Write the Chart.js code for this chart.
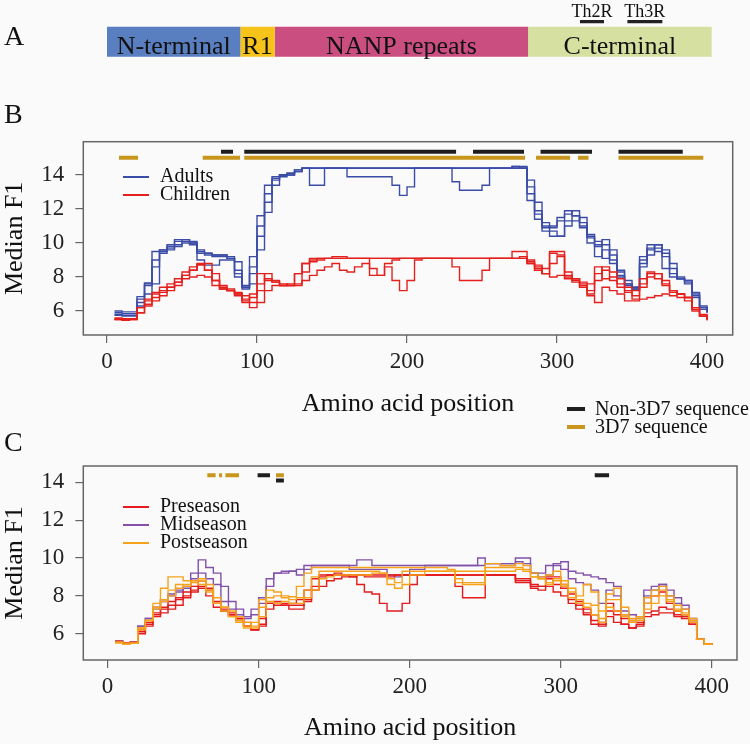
<!DOCTYPE html>
<html>
<head>
<meta charset="utf-8">
<script src="https://cdn.jsdelivr.net/npm/chart.js@4.4.1/dist/chart.umd.min.js"></script>
<style>
    html, body { margin: 0; padding: 0; background: #fafafa; }
    #figure {
        position: relative;
        width: 750px;
        height: 744px;
        overflow: hidden;
        font-family: "Liberation Serif", "DejaVu Serif", serif;
        color: #111;
    }
    #figure canvas { position: absolute; left: 0; }
    .panel-letter { position: absolute; font-size: 28px; line-height: 28px; }
    .key-text { position: absolute; font-size: 20px; line-height: 20px; white-space: nowrap; }
    .key-mark { position: absolute; }
</style>
</head>
<body>
<div id="figure">
    <canvas id="panel-a" width="750" height="75" style="top:0"></canvas>
    <canvas id="panel-b" width="750" height="300" style="top:130px"></canvas>
    <canvas id="panel-c" width="750" height="289" style="top:455px"></canvas>
    <div class="panel-letter" style="left:4px; top:22px">A</div>
    <div class="panel-letter" style="left:4px; top:100px">B</div>
    <div class="panel-letter" style="left:4px; top:428px">C</div>
</div>
<script>
// amino acid positions shared by every profile (window positions)
const aaPositions = [
    5, 10, 15, 20, 25, 30, 35, 40, 45, 50,
    55, 60, 65, 70, 75, 80, 85, 90, 95, 100,
    105, 110, 115, 120, 125, 130, 135, 140, 145, 150,
    155, 160, 165, 170, 175, 180, 185, 190, 195, 200,
    205, 210, 215, 220, 225, 230, 235, 240, 245, 250,
    255, 260, 265, 270, 275, 280, 285, 290, 295, 300,
    305, 310, 315, 320, 325, 330, 335, 340, 345, 350,
    355, 360, 365, 370, 375, 380, 385, 390, 395, 400,
];
const xTicks = [0, 100, 200, 300, 400];
const yTicks = [6, 8, 10, 12, 14];

// panel A: protein domains
const domainLabels = ["N-terminal", "R1", "NANP repeats", "C-terminal"];
const domainStarts = [0, 88.9, 111.8, 280.7];
const domainEnds = [88.9, 111.8, 280.7, 403.1];
const epitopeLabels = ["Th2R", "Th3R"];
const epitopeStarts = [315.3, 346.9];
const epitopeEnds = [331.3, 370.2];

// panel B: adults
const adultsB1 = [
    6.0, 5.95, 5.95, 6.85, 7.65, 9.5, 9.6, 9.9, 10.2, 10.2,
    10.0, 9.5, 9.4, 9.3, 9.3, 9.2, 8.4, 7.5, 9.2, 11.6,
    13.4, 13.9, 14.0, 14.1, 14.3, 14.4, 14.4, 14.4, 14.4, 14.4,
    14.4, 14.4, 14.4, 14.4, 14.4, 14.4, 14.4, 14.4, 14.4, 14.4,
    14.4, 14.4, 14.4, 14.4, 14.4, 14.4, 14.4, 14.4, 14.4, 14.4,
    14.4, 14.4, 14.4, 14.5, 14.5, 12.5, 11.4, 10.9, 11.0, 11.5,
    11.9, 11.6, 10.9, 10.3, 9.8, 10.2, 9.3, 8.3, 7.6, 7.4,
    9.0, 9.9, 9.5, 8.5, 8.0, 7.9, 7.7, 6.9, 6.2, 5.95,
];
const adultsB2 = [
    5.8, 5.75, 5.75, 6.5, 7.5, 8.6, 9.5, 9.7, 9.8, 10.0,
    9.9, 9.0, 8.7, 8.7, 9.0, 9.0, 8.2, 7.3, 8.2, 10.4,
    12.4, 13.7, 14.0, 14.0, 14.2, 14.4, 13.4, 13.4, 14.4, 14.4,
    14.4, 14.4, 14.4, 14.4, 14.4, 14.4, 14.4, 14.4, 14.4, 14.4,
    14.4, 14.4, 14.4, 14.4, 14.4, 14.4, 14.4, 14.4, 14.4, 14.4,
    14.4, 14.4, 14.4, 14.4, 14.4, 13.3, 11.9, 10.7, 10.4, 10.4,
    11.3, 11.6, 11.0, 10.0, 9.2, 9.6, 8.8, 8.0, 7.5, 7.3,
    8.8, 9.6, 9.7, 9.2, 8.2, 7.9, 7.6, 6.8, 6.1, 5.9,
];
const adultsB3 = [
    5.75, 5.7, 5.7, 6.3, 7.0, 7.6, 9.4, 9.6, 9.9, 10.1,
    10.1, 9.6, 9.4, 9.2, 9.2, 9.1, 8.9, 7.4, 7.6, 9.6,
    11.8, 13.4, 13.9, 14.0, 14.2, 14.4, 14.4, 14.4, 14.4, 14.4,
    14.4, 13.9, 13.9, 13.9, 13.9, 13.9, 13.9, 13.4, 12.8, 13.3,
    14.4, 14.4, 14.4, 14.4, 14.4, 13.6, 13.1, 13.1, 13.1, 13.4,
    14.4, 14.4, 14.4, 14.5, 14.4, 13.7, 12.4, 11.2, 10.7, 10.4,
    11.0, 11.3, 11.5, 10.5, 9.9, 9.1, 9.6, 8.4, 7.8, 7.3,
    8.6, 9.3, 9.9, 9.6, 8.8, 8.0, 7.8, 7.0, 6.2, 5.9,
];
const adultsB4 = [
    5.9, 5.85, 5.85, 6.7, 7.6, 9.0, 9.6, 9.8, 10.1, 10.2,
    10.0, 9.4, 9.3, 9.3, 9.3, 9.1, 8.0, 7.4, 8.6, 11.0,
    12.9, 13.8, 14.0, 14.1, 14.3, 14.4, 14.4, 14.4, 14.4, 14.4,
    14.4, 14.4, 14.4, 14.4, 14.4, 14.4, 14.4, 14.4, 14.4, 14.4,
    14.4, 14.4, 14.4, 14.4, 14.4, 14.4, 14.4, 14.4, 14.4, 14.4,
    14.4, 14.4, 14.4, 14.4, 14.4, 12.9, 11.7, 11.0, 10.9, 11.3,
    11.7, 11.9, 11.2, 10.4, 10.1, 9.9, 9.0, 8.1, 7.6, 7.4,
    9.2, 9.7, 9.9, 9.4, 8.5, 7.9, 7.8, 7.1, 6.3, 6.0,
];

// panel B: children
const childrenB1 = [
    5.55, 5.55, 5.55, 6.2, 6.6, 7.0, 7.2, 7.4, 7.7, 8.1,
    8.4, 8.8, 8.4, 7.8, 7.5, 7.2, 7.1, 6.7, 7.0, 8.2,
    7.8, 7.7, 7.6, 7.5, 8.2, 8.8, 9.1, 9.1, 9.1, 9.2,
    9.2, 9.1, 9.1, 9.1, 9.1, 9.1, 9.1, 9.1, 9.1, 9.1,
    9.1, 9.1, 9.1, 9.1, 9.1, 9.1, 9.1, 9.1, 9.1, 9.1,
    9.1, 9.1, 9.1, 9.5, 9.5, 8.8, 8.4, 8.2, 9.5, 9.5,
    8.0, 7.8, 7.7, 7.6, 8.2, 8.6, 8.3, 7.9, 7.4, 7.2,
    7.9, 8.2, 8.2, 7.6, 7.1, 7.0, 6.8, 6.1, 5.7, 5.5,
];
const childrenB2 = [
    5.5, 5.5, 5.5, 5.9, 6.4, 6.8, 7.1, 7.4, 7.7, 8.1,
    8.4, 8.7, 8.8, 8.2, 7.3, 7.2, 7.0, 6.9, 6.5, 7.2,
    7.9, 7.7, 7.5, 7.5, 8.2, 8.8, 9.0, 9.0, 9.1, 9.1,
    9.1, 9.1, 9.1, 9.1, 8.5, 8.1, 8.6, 7.8, 7.2, 7.8,
    9.0, 9.1, 9.1, 9.1, 9.1, 8.6, 7.8, 7.8, 7.8, 8.4,
    9.1, 9.1, 9.1, 9.1, 9.2, 8.8, 8.6, 8.2, 8.8, 9.2,
    8.1, 7.9, 7.6, 7.2, 7.8, 8.4, 7.8, 7.4, 7.2, 6.7,
    7.4, 8.0, 8.2, 7.8, 7.2, 7.0, 6.8, 6.2, 5.8, 5.5,
];
const childrenB3 = [
    5.5, 5.45, 5.5, 5.9, 6.3, 6.6, 6.9, 7.2, 7.5, 7.9,
    8.0, 8.1, 8.0, 7.5, 7.4, 7.2, 6.9, 6.5, 6.2, 6.5,
    7.2, 7.5, 7.5, 7.5, 7.5, 7.8, 8.1, 8.4, 8.6, 8.8,
    8.4, 8.3, 8.6, 8.8, 8.1, 8.1, 8.8, 9.0, 9.1, 9.1,
    9.1, 9.1, 9.1, 9.1, 9.1, 9.1, 9.1, 9.1, 9.1, 9.1,
    9.1, 9.1, 9.1, 9.1, 9.1, 8.9, 8.5, 8.2, 8.0, 8.1,
    7.9, 7.7, 7.4, 6.9, 6.5, 7.4, 7.2, 7.0, 6.6, 6.6,
    6.7, 6.8, 6.9, 7.0, 6.9, 6.8, 6.6, 6.0, 5.7, 5.45,
];
const childrenB4 = [
    5.6, 5.55, 5.55, 6.2, 6.7, 7.1, 7.4, 7.6, 7.9, 8.3,
    8.6, 8.75, 8.4, 7.8, 7.3, 7.3, 7.0, 6.6, 6.8, 7.6,
    8.2, 7.8, 7.5, 7.6, 7.6, 8.3, 8.9, 9.1, 9.1, 9.1,
    9.1, 9.1, 9.1, 9.1, 9.1, 9.1, 9.1, 9.1, 9.1, 9.1,
    9.1, 9.1, 9.1, 9.1, 9.1, 9.1, 9.1, 9.1, 9.1, 9.1,
    9.1, 9.1, 9.1, 9.1, 9.1, 9.0, 8.7, 8.5, 9.4, 9.3,
    8.3, 7.9, 7.5, 7.0, 8.6, 7.9, 8.0, 7.6, 7.1, 6.9,
    7.6, 8.3, 7.9, 7.5, 7.2, 7.0, 6.8, 6.1, 5.7, 5.5,
];

// panel C: preseason / midseason / postseason
const preseasonC1 = [
    5.6, 5.5, 5.55, 6.2, 6.6, 7.1, 7.4, 7.7, 7.9, 8.2,
    8.5, 8.8, 8.4, 7.7, 7.2, 7.0, 6.8, 6.6, 6.2, 6.8,
    7.6, 7.7, 7.6, 7.6, 7.8, 8.3, 8.9, 9.1, 9.1, 9.1,
    9.1, 9.1, 9.1, 9.1, 9.1, 9.1, 9.1, 9.1, 9.1, 9.1,
    9.1, 9.1, 9.1, 9.1, 9.1, 9.1, 9.1, 9.1, 9.1, 9.1,
    9.1, 9.1, 9.1, 8.8, 8.8, 8.6, 8.5, 9.0, 9.0, 8.6,
    8.1, 7.7, 7.3, 7.0, 6.4, 7.6, 7.2, 6.8, 6.6, 6.6,
    7.6, 8.0, 8.2, 7.6, 7.2, 7.0, 6.6, 5.7, 5.45, 5.4,
];
const preseasonC2 = [
    5.55, 5.5, 5.5, 6.1, 6.5, 7.0, 7.3, 7.5, 7.8, 8.0,
    8.3, 8.5, 8.3, 7.6, 7.3, 7.1, 6.8, 6.4, 6.2, 6.5,
    7.3, 7.6, 7.5, 7.5, 7.5, 7.7, 8.3, 8.5, 8.8, 8.9,
    9.0, 9.0, 9.1, 9.0, 9.0, 9.0, 9.0, 9.1, 9.1, 9.1,
    9.1, 9.1, 9.1, 9.1, 9.1, 8.5, 7.9, 7.9, 7.9, 9.1,
    9.1, 9.1, 9.1, 8.7, 8.7, 8.5, 8.5, 8.9, 8.6, 8.4,
    7.8, 7.5, 7.1, 6.7, 6.6, 7.2, 7.0, 6.5, 6.3, 6.5,
    7.1, 7.2, 7.4, 7.3, 7.0, 6.9, 6.5, 5.7, 5.45, 5.4,
];
const preseasonC3 = [
    5.55, 5.5, 5.5, 6.0, 6.4, 6.9, 7.1, 7.3, 7.5, 7.9,
    8.2, 8.4, 8.0, 7.4, 7.2, 7.0, 6.7, 6.4, 6.2, 6.4,
    7.6, 7.5, 7.5, 7.3, 7.3, 7.8, 8.5, 9.0, 9.1, 9.2,
    9.1, 9.0, 8.6, 8.2, 8.1, 7.6, 7.2, 7.2, 7.6, 8.6,
    9.1, 9.1, 9.1, 9.1, 9.1, 9.1, 9.1, 9.1, 9.1, 9.1,
    9.1, 9.1, 9.1, 8.9, 8.9, 8.4, 8.3, 8.5, 8.2, 8.0,
    7.6, 7.3, 7.0, 6.5, 6.5, 6.9, 6.6, 6.5, 6.3, 6.4,
    6.9, 7.0, 7.1, 7.1, 6.9, 6.8, 6.5, 5.7, 5.45, 5.4,
];
const midseasonC1 = [
    5.6, 5.5, 5.55, 6.4, 6.8, 7.3, 7.7, 8.0, 8.2, 8.4,
    9.2, 9.9, 9.5, 9.2, 8.5, 7.7, 7.3, 6.9, 7.3, 7.6,
    8.5, 9.2, 9.3, 9.3, 9.4, 9.6, 9.6, 9.6, 9.6, 9.6,
    9.6, 9.6, 9.9, 9.9, 9.6, 9.6, 9.6, 9.6, 9.6, 9.6,
    9.6, 9.6, 9.6, 9.6, 9.6, 9.6, 9.6, 9.6, 10.0, 9.7,
    9.7, 9.7, 9.7, 10.0, 10.0, 9.2, 9.2, 9.6, 9.7, 9.8,
    9.3, 9.2, 9.1, 9.0, 8.9, 8.7, 8.5, 7.2, 7.0, 6.9,
    8.3, 8.5, 8.6, 8.3, 7.9, 7.5, 6.8, 5.7, 5.45, 5.4,
];
const midseasonC2 = [
    5.6, 5.5, 5.55, 6.4, 6.8, 7.4, 7.8, 8.1, 8.3, 8.5,
    8.9, 9.2, 8.9, 8.6, 7.7, 7.3, 7.0, 6.8, 7.0, 7.9,
    8.9, 9.2, 9.2, 9.3, 9.1, 9.4, 9.6, 9.6, 9.6, 9.6,
    9.6, 9.4, 9.4, 9.4, 9.4, 9.4, 9.1, 9.0, 9.1, 9.4,
    9.4, 9.6, 9.6, 9.6, 9.6, 9.6, 9.6, 9.6, 9.6, 9.7,
    9.7, 9.6, 9.6, 9.8, 9.7, 9.2, 9.0, 9.1, 9.6, 9.4,
    8.9, 8.7, 8.6, 8.3, 7.6, 8.3, 8.0, 7.0, 6.7, 6.8,
    8.0, 8.3, 8.6, 8.0, 7.6, 7.3, 6.7, 5.7, 5.45, 5.4,
];
const postseasonC1 = [
    5.55, 5.45, 5.5, 6.3, 6.7, 7.6, 8.4, 9.0, 9.0, 8.8,
    8.8, 8.9, 8.6, 7.9, 7.4, 7.2, 6.9, 6.6, 6.3, 7.8,
    8.3, 8.2, 8.0, 7.95, 8.5, 9.2, 9.5, 9.5, 9.5, 9.5,
    9.5, 9.5, 9.5, 9.5, 9.5, 9.5, 9.5, 9.5, 9.5, 9.5,
    9.5, 9.5, 9.5, 9.5, 9.4, 8.9, 8.7, 8.7, 8.7, 9.7,
    9.7, 9.6, 9.6, 9.7, 9.6, 9.2, 9.0, 9.1, 9.3, 8.8,
    8.4, 8.0, 8.6, 8.2, 7.2, 8.1, 8.4, 7.4, 6.8, 6.9,
    7.9, 8.3, 8.5, 8.0, 7.5, 7.3, 6.8, 5.7, 5.45, 5.4,
];
const postseasonC2 = [
    5.5, 5.45, 5.5, 6.2, 6.7, 7.3, 7.8, 8.3, 8.6, 8.5,
    8.7, 8.6, 8.2, 7.6, 7.4, 6.9, 6.7, 6.4, 6.6, 7.4,
    7.9, 8.0, 7.9, 7.8, 7.9, 8.3, 9.0, 9.3, 9.3, 9.3,
    9.3, 9.3, 9.3, 9.3, 9.3, 9.2, 8.9, 8.7, 9.3, 9.3,
    9.3, 9.3, 9.3, 9.3, 9.3, 9.3, 9.3, 9.3, 9.3, 9.5,
    9.5, 9.5, 9.5, 9.5, 9.4, 9.0, 8.9, 8.7, 8.9, 8.6,
    8.2, 7.8, 7.6, 7.5, 6.6, 7.8, 7.8, 7.0, 6.7, 6.8,
    7.6, 8.0, 8.3, 7.8, 7.3, 7.1, 6.7, 5.7, 5.45, 5.4,
];
const postseasonC3 = [
    5.55, 5.5, 5.5, 6.3, 6.7, 7.4, 7.7, 8.0, 8.4, 8.6,
    8.8, 8.8, 8.3, 7.6, 7.2, 6.9, 6.6, 6.3, 6.4, 6.9,
    7.7, 7.6, 7.7, 7.6, 7.6, 7.9, 8.3, 8.9, 9.0, 9.1,
    9.1, 9.1, 9.1, 9.1, 9.2, 9.2, 8.6, 8.4, 8.6, 9.1,
    9.1, 9.3, 9.3, 9.3, 9.3, 8.7, 8.6, 8.6, 8.6, 9.3,
    9.3, 9.3, 9.3, 9.4, 9.3, 9.0, 8.9, 8.6, 8.8, 8.5,
    7.9, 7.6, 7.4, 7.0, 6.8, 7.4, 7.2, 6.9, 6.6, 6.7,
    7.3, 7.6, 8.0, 7.7, 7.2, 7.0, 6.6, 5.7, 5.45, 5.4,
];

// sequence coverage bars, [start, end] in amino acid positions
const nonRefSegmentsB = [[76, 84], [91.5, 232.7], [244, 278], [289, 323.3], [341, 383.8]];
const refSegmentsB = [[8, 20.7], [63.8, 88.7], [91.5, 278.7], [286, 308.7], [314, 321], [341, 397.5]];
const nonRefSegmentsC = [[99.3, 107.5], [322.5, 332]];
const nonRefSegmentsCLow = [[111.5, 116.7]];
const refSegmentsC = [[66, 71.5], [73.8, 75.8], [78, 87], [111.5, 116.7]];

const colors = {
    adults: "#3b4ca6",
    children: "#e3201c",
    preseason: "#e41a1c",
    midseason: "#8151ab",
    postseason: "#f7a21b",
    nonRef: "#1e1e1e",
    ref: "#c8961c",
    domains: ["#5a7fc1", "#f6c31a", "#cb4e80", "#d5e0a1"],
};

const figureFont = '"Liberation Serif", "DejaVu Serif", serif';

function lineDataset(values, color) {
    return {
        data: aaPositions.map((x, i) => ({ x, y: values[i] })),
        borderColor: color,
        borderWidth: 1.4,
        pointRadius: 0,
        stepped: true,
        fill: false,
    };
}

function segmentDatasets(segments, level, color) {
    return segments.map(([start, end]) => ({
        data: [{ x: start, y: level }, { x: end, y: level }],
        borderColor: color,
        borderWidth: 4,
        borderCapStyle: "butt",
        pointRadius: 0,
        fill: false,
    }));
}

const boxPlugin = {
    id: "box",
    beforeDatasetsDraw(chart) {
        const { ctx, chartArea: a } = chart;
        ctx.save();
        ctx.strokeStyle = "#666";
        ctx.lineWidth = 1.5;
        ctx.strokeRect(a.left, a.top, a.right - a.left, a.bottom - a.top);
        ctx.restore();
    },
};

function axisOptions(xRange, yRange, axisHeight, titleBottom) {
    return {
        x: {
            type: "linear",
            min: xRange[0],
            max: xRange[1],
            afterBuildTicks: (scale) => { scale.ticks = xTicks.map((value) => ({ value })); },
            afterFit: (scale) => { scale.height = axisHeight; },
            grid: { drawOnChartArea: false, tickLength: 8, color: "#666", lineWidth: 1.2 },
            border: { display: false },
            ticks: { autoSkip: false, maxRotation: 0, padding: 5, color: "#222", font: { family: figureFont, size: 23 } },
            title: {
                display: true,
                text: "Amino acid position",
                color: "#111",
                font: { family: figureFont, size: 26 },
                padding: { top: 0, bottom: titleBottom },
            },
        },
        y: {
            type: "linear",
            min: yRange[0],
            max: yRange[1],
            afterBuildTicks: (scale) => { scale.ticks = yTicks.map((value) => ({ value })); },
            afterFit: (scale) => {
                scale.width = 83.3;
                // the tick labels sit well inside the box, no extra room needed
                scale.paddingTop = 0;
                scale.paddingBottom = 0;
            },
            grid: { drawOnChartArea: false, tickLength: 8, color: "#666", lineWidth: 1.2 },
            border: { display: false },
            ticks: { autoSkip: false, padding: 11, color: "#222", font: { family: figureFont, size: 23 } },
            title: {
                display: true,
                text: "Median F1",
                color: "#111",
                font: { family: figureFont, size: 26 },
                padding: { top: 0, bottom: 0 },
            },
        },
    };
}

const quietPlugins = { legend: { display: false }, tooltip: { enabled: false } };

// panel A
const barTextPlugin = {
    id: "barText",
    afterDatasetsDraw(chart) {
        const { ctx } = chart;
        ctx.save();
        ctx.fillStyle = "#111";
        ctx.textAlign = "center";
        ctx.textBaseline = "alphabetic";
        chart.data.datasets.forEach((dataset, i) => {
            const el = chart.getDatasetMeta(i).data.find((bar, j) => dataset.data[j] !== null);
            const cx = (el.x + el.base) / 2;
            if (dataset.kind === "domain") {
                ctx.font = `26px ${figureFont}`;
                ctx.fillText(dataset.label, cx, el.y + 8.5);
            } else {
                ctx.font = `18px ${figureFont}`;
                ctx.fillText(dataset.label, cx, el.y - 4.6);
            }
        });
        ctx.restore();
    },
};

new Chart(document.getElementById("panel-a"), {
    type: "bar",
    data: {
        labels: ["epitope", "domain"],
        datasets: [
            ...domainLabels.map((label, i) => ({
                label,
                kind: "domain",
                data: [null, [domainStarts[i], domainEnds[i]]],
                backgroundColor: colors.domains[i],
                borderWidth: 0,
                barPercentage: 1.571,
                categoryPercentage: 1,
                grouped: false,
            })),
            ...epitopeLabels.map((label, i) => ({
                label,
                kind: "epitope",
                data: [[epitopeStarts[i], epitopeEnds[i]], null],
                backgroundColor: "#222",
                borderWidth: 0,
                barPercentage: 0.14,
                categoryPercentage: 1,
                grouped: false,
            })),
        ],
    },
    options: {
        indexAxis: "y",
        responsive: false,
        animation: false,
        layout: { padding: { top: 10.05, bottom: 18.35, left: 83.3, right: 17.3 } },
        scales: {
            x: { type: "linear", min: -15.8, max: 417.1, display: false },
            y: { display: false },
        },
        plugins: quietPlugins,
    },
    plugins: [barTextPlugin],
});

// panel B
new Chart(document.getElementById("panel-b"), {
    type: "line",
    data: {
        datasets: [
            ...segmentDatasets(nonRefSegmentsB, 15.37, colors.nonRef),
            ...segmentDatasets(refSegmentsB, 15.02, colors.ref),
            ...[childrenB1, childrenB2, childrenB3, childrenB4].map((v) => lineDataset(v, colors.children)),
            ...[adultsB1, adultsB2, adultsB3, adultsB4].map((v) => lineDataset(v, colors.adults)),
        ],
    },
    options: {
        responsive: false,
        animation: false,
        layout: { padding: { top: 11.7, right: 17.3, bottom: 0, left: 0 } },
        scales: axisOptions([-15.8, 417.1], [4.59, 15.96], 95, 10),
        plugins: quietPlugins,
    },
    plugins: [boxPlugin],
});

// panel C
new Chart(document.getElementById("panel-c"), {
    type: "line",
    data: {
        datasets: [
            ...segmentDatasets(nonRefSegmentsC, 14.37, colors.nonRef),
            ...segmentDatasets(nonRefSegmentsCLow, 14.1, colors.nonRef),
            ...segmentDatasets(refSegmentsC, 14.37, colors.ref),
            ...[postseasonC1, postseasonC2, postseasonC3].map((v) => lineDataset(v, colors.postseason)),
            ...[preseasonC1, preseasonC2, preseasonC3].map((v) => lineDataset(v, colors.preseason)),
            ...[midseasonC1, midseasonC2].map((v) => lineDataset(v, colors.midseason)),
        ],
    },
    options: {
        responsive: false,
        animation: false,
        layout: { padding: { top: 11, right: 13, bottom: 0, left: 0 } },
        scales: axisOptions([-16.1, 416.7], [4.61, 14.86], 84, 0),
        plugins: quietPlugins,
    },
    plugins: [boxPlugin],
});

// keys drawn as page text
const figure = document.getElementById("figure");
const keyB = [["Adults", colors.adults], ["Children", colors.children]];
const keyC = [["Preseason", colors.preseason], ["Midseason", colors.midseason], ["Postseason", colors.postseason]];
const keySequence = [["Non-3D7 sequence", colors.nonRef], ["3D7 sequence", colors.ref]];

function addKey(entries, left, firstLineY, rowGap, markWidth, markHeight, textLeft) {
    entries.forEach(([label, color], i) => {
        const y = Math.round(firstLineY + i * rowGap);
        const mark = document.createElement("div");
        mark.className = "key-mark";
        mark.style.left = `${left}px`;
        mark.style.top = `${y - Math.floor(markHeight / 2)}px`;
        mark.style.width = `${markWidth}px`;
        mark.style.height = `${markHeight}px`;
        mark.style.background = color;
        figure.appendChild(mark);
        const text = document.createElement("div");
        text.className = "key-text";
        text.textContent = label;
        text.style.left = `${textLeft}px`;
        text.style.top = `${y - 11}px`;
        figure.appendChild(text);
    });
}

addKey(keyB, 123, 176, 18.3, 26, 1.5, 160);
addKey(keyC, 123, 506, 17.8, 26, 1.5, 160);
addKey(keySequence, 567, 409.3, 17.4, 18, 4, 595);
</script>
</body>
</html>
